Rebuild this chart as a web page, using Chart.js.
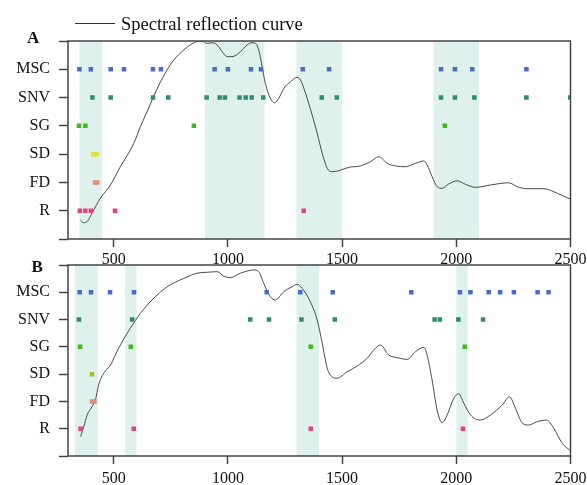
<!DOCTYPE html>
<html lang="en">
<head>
<meta charset="UTF-8">
<title>Spectral reflection curve</title>
<script src="https://cdn.jsdelivr.net/npm/chart.js@4.4.0/dist/chart.umd.min.js"></script>
<style>
  html, body { margin: 0; padding: 0; background: #fff; }
  #wrap { position: relative; width: 587px; height: 485px; overflow: hidden; }
  canvas { position: absolute; left: 0; }
  #chartA { top: 0; }
  #chartB { top: 250px; }
</style>
</head>
<body>
<div id="wrap">
  <canvas id="chartA" width="587" height="270"></canvas>
  <canvas id="chartB" width="587" height="235"></canvas>
</div>
<script>
// method rows, from bottom (1) to top (6)
var rowLabels = ['R', 'FD', 'SD', 'SG', 'SNV', 'MSC'];
var xTickValues = [500, 1000, 1500, 2000, 2500];

// panel A: mean spectrum (scaled 0..1) and selected wavelengths per method
var wavelengthA = [354, 369, 386, 405, 442, 486, 529, 588, 617, 646, 675, 705, 734, 763, 807, 850, 872, 894, 909, 931,
  953, 975, 997, 1018, 1055, 1084, 1106, 1121, 1135, 1150, 1164, 1186, 1204, 1223, 1245, 1274, 1303, 1318, 1340, 1369,
  1391, 1413, 1435, 1456, 1485, 1529, 1580, 1624, 1661, 1697, 1734, 1777, 1821, 1858, 1872, 1894, 1916, 1938, 1967, 2004,
  2040, 2084, 2150, 2230, 2267, 2311, 2384, 2442, 2498];
var reflectA = [0.096, 0.082, 0.091, 0.130, 0.206, 0.273, 0.365, 0.483, 0.567, 0.643, 0.719, 0.794, 0.854, 0.904, 0.955, 0.991, 1.0, 0.996, 0.988, 0.991,
  0.980, 0.946, 0.921, 0.921, 0.946, 0.980, 0.991, 0.988, 0.955, 0.870, 0.786, 0.711, 0.688, 0.711, 0.761, 0.794, 0.817, 0.803, 0.736, 0.626,
  0.534, 0.433, 0.357, 0.340, 0.345, 0.362, 0.369, 0.390, 0.416, 0.382, 0.369, 0.365, 0.382, 0.394, 0.374, 0.315, 0.264, 0.256, 0.278, 0.294,
  0.276, 0.261, 0.273, 0.284, 0.264, 0.254, 0.254, 0.231, 0.202];
var bandsA = [[350, 450], [900, 1160], [1300, 1500], [1900, 2100]];
var mscA = [350, 400, 487, 545, 672, 707, 942, 1000, 1101, 1145, 1328, 1443, 1933, 1994, 2070, 2307];
var snvA = [407, 487, 672, 739, 907, 964, 987, 1051, 1078, 1104, 1155, 1411, 1477, 1933, 1994, 2079, 2307, 2499];
var sgA = [348, 376, 851, 1950];
var sdA = [410, 418, 425];
var fdA = [418, 428];
var rA = [352, 376, 400, 506, 1332];

// panel B
var wavelengthB = [355, 369, 384, 405, 420, 434, 456, 486, 507, 537, 573, 617, 668, 734, 807, 865, 909, 953, 982, 1011,
  1055, 1113, 1135, 1157, 1186, 1208, 1244, 1281, 1303, 1325, 1361, 1391, 1413, 1435, 1456, 1478, 1522, 1566, 1610, 1646,
  1668, 1704, 1741, 1785, 1821, 1858, 1872, 1894, 1916, 1938, 1960, 1989, 2011, 2033, 2062, 2106, 2150, 2201, 2233, 2259,
  2288, 2317, 2354, 2395, 2427, 2464, 2500];
var reflectB = [0.101, 0.153, 0.215, 0.258, 0.293, 0.372, 0.433, 0.476, 0.529, 0.598, 0.669, 0.747, 0.817, 0.886, 0.930, 0.957, 0.962, 0.965, 0.942, 0.934,
  0.957, 0.974, 0.965, 0.904, 0.834, 0.817, 0.860, 0.886, 0.899, 0.878, 0.808, 0.712, 0.590, 0.459, 0.415, 0.407, 0.441, 0.471, 0.512, 0.564,
  0.581, 0.529, 0.515, 0.506, 0.546, 0.569, 0.529, 0.398, 0.241, 0.174, 0.215, 0.302, 0.325, 0.276, 0.215, 0.188, 0.215, 0.267, 0.310, 0.250,
  0.174, 0.162, 0.180, 0.188, 0.145, 0.066, 0.028];
var bandsB = [[330, 430], [550, 600], [1300, 1400], [2000, 2050]];
var mscB = [351, 401, 484, 589, 1170, 1317, 1459, 1803, 2016, 2062, 2142, 2192, 2252, 2356, 2404];
var snvB = [348, 581, 1098, 1180, 1322, 1468, 1905, 1928, 2009, 2117];
var sgB = [353, 575, 1363, 2037];
var sdB = [405];
var fdB = [405, 416];
var rB = [355, 588, 1363, 2029];

var serif = "'Liberation Serif', 'Times New Roman', serif";
var axisColor = '#444';

var bandPlugin = {
  id: 'bands',
  beforeDatasetsDraw: function (chart, args, opts) {
    var ctx = chart.ctx, area = chart.chartArea, x = chart.scales.x;
    ctx.save();
    ctx.fillStyle = '#dff1ec';
    opts.ranges.forEach(function (r) {
      var x0 = x.getPixelForValue(r[0]), x1 = x.getPixelForValue(r[1]);
      ctx.fillRect(x0, area.top, x1 - x0, area.bottom - area.top);
    });
    ctx.restore();
  }
};

var framePlugin = {
  id: 'frame',
  afterDatasetsDraw: function (chart) {
    var ctx = chart.ctx, a = chart.chartArea;
    ctx.save();
    ctx.strokeStyle = axisColor;
    ctx.lineWidth = 1.5;
    ctx.strokeRect(a.left, a.top, a.right - a.left, a.bottom - a.top);
    ctx.restore();
  }
};

// panel letter and, on the top panel, the legend entry for the curve
var textPlugin = {
  id: 'texts',
  afterDraw: function (chart, args, opts) {
    var ctx = chart.ctx;
    ctx.save();
    ctx.fillStyle = '#111';
    ctx.textBaseline = 'alphabetic';
    ctx.font = 'bold 17px ' + serif;
    ctx.fillText(opts.letter, opts.letterX, opts.letterY);
    if (opts.legend) {
      ctx.strokeStyle = '#333';
      ctx.lineWidth = 1;
      ctx.beginPath();
      ctx.moveTo(75, 23.5);
      ctx.lineTo(115, 23.5);
      ctx.stroke();
      ctx.font = '18.5px ' + serif;
      ctx.fillText(opts.legend, 121, 29.5);
    }
    ctx.restore();
  }
};

function buildPanel(id, p) {
  var marks = [p.r, p.fd, p.sd, p.sg, p.snv, p.msc];
  var colors = ['#e8407c', '#dc8f79', p.sdColor, '#3fba1c', '#2f8b73', '#4a6cc2'];
  var datasets = marks.map(function (arr, i) {
    return {
      label: rowLabels[i],
      data: arr.map(function (w) { return { x: w, y: i + 1 }; }),
      backgroundColor: colors[i],
      borderWidth: 0,
      pointStyle: 'rect',
      pointRadius: 3.2,
      showLine: false
    };
  });
  datasets.push({
    type: 'line',
    label: 'Spectral reflection curve',
    data: p.wl.map(function (w, i) { return { x: w, y: p.refl[i] }; }),
    yAxisID: 'yCurve',
    borderColor: '#4a4a4a',
    borderWidth: 1,
    pointRadius: 0,
    cubicInterpolationMode: 'monotone',
    fill: false
  });

  return new Chart(document.getElementById(id), {
    type: 'scatter',
    data: { datasets: datasets },
    options: {
      responsive: false,
      animation: false,
      devicePixelRatio: 1,
      layout: { padding: { top: p.padTop, right: 16.5, left: 0, bottom: 0 } },
      plugins: {
        legend: { display: false },
        tooltip: { enabled: false },
        bands: { ranges: p.bands },
        texts: { letter: p.letter, letterX: p.letterX, letterY: p.letterY, legend: p.legend }
      },
      scales: {
        x: {
          type: 'linear',
          min: 300,
          max: 2500,
          afterBuildTicks: function (s) { s.ticks = xTickValues.map(function (v) { return { value: v }; }); },
          afterFit: function (s) { s.height = p.xHeight; s.paddingLeft = 0; s.paddingRight = 0; },
          ticks: {
            font: { family: serif, size: 16 },
            color: '#111',
            padding: p.xPad,
            maxRotation: 0,
            callback: function (v) { return String(v); }
          },
          grid: { drawOnChartArea: false, tickLength: 8, tickColor: axisColor, tickWidth: 1.5 },
          border: { display: false }
        },
        y: {
          type: 'linear',
          min: 0,
          max: 7,
          afterBuildTicks: function (s) {
            s.ticks = [0, 1, 2, 3, 4, 5, 6, 7].map(function (v) { return { value: v }; });
          },
          afterFit: function (s) { s.width = 68; s.paddingTop = 0; s.paddingBottom = 0; },
          ticks: {
            font: { family: serif, size: 16 },
            color: '#111',
            padding: 9,
            callback: function (v) { return rowLabels[v - 1] || ''; }
          },
          grid: { drawOnChartArea: false, tickLength: 9, tickColor: axisColor, tickWidth: 1.5 },
          border: { display: false }
        },
        yCurve: { type: 'linear', min: 0, max: 1, display: false }
      }
    },
    plugins: [bandPlugin, framePlugin, textPlugin]
  });
}

buildPanel('chartA', {
  wl: wavelengthA, refl: reflectA, bands: bandsA,
  msc: mscA, snv: snvA, sg: sgA, sd: sdA, fd: fdA, r: rA,
  sdColor: '#e2e23c',
  padTop: 41, xHeight: 31, xPad: 3,
  letter: 'A', letterX: 27, letterY: 43, legend: 'Spectral reflection curve'
});

buildPanel('chartB', {
  wl: wavelengthB, refl: reflectB, bands: bandsB,
  msc: mscB, snv: snvB, sg: sgB, sd: sdB, fd: fdB, r: rB,
  sdColor: '#aab82a',
  padTop: 15, xHeight: 29, xPad: 5,
  letter: 'B', letterX: 31.5, letterY: 21.5, legend: null
});
</script>
</body>
</html>
